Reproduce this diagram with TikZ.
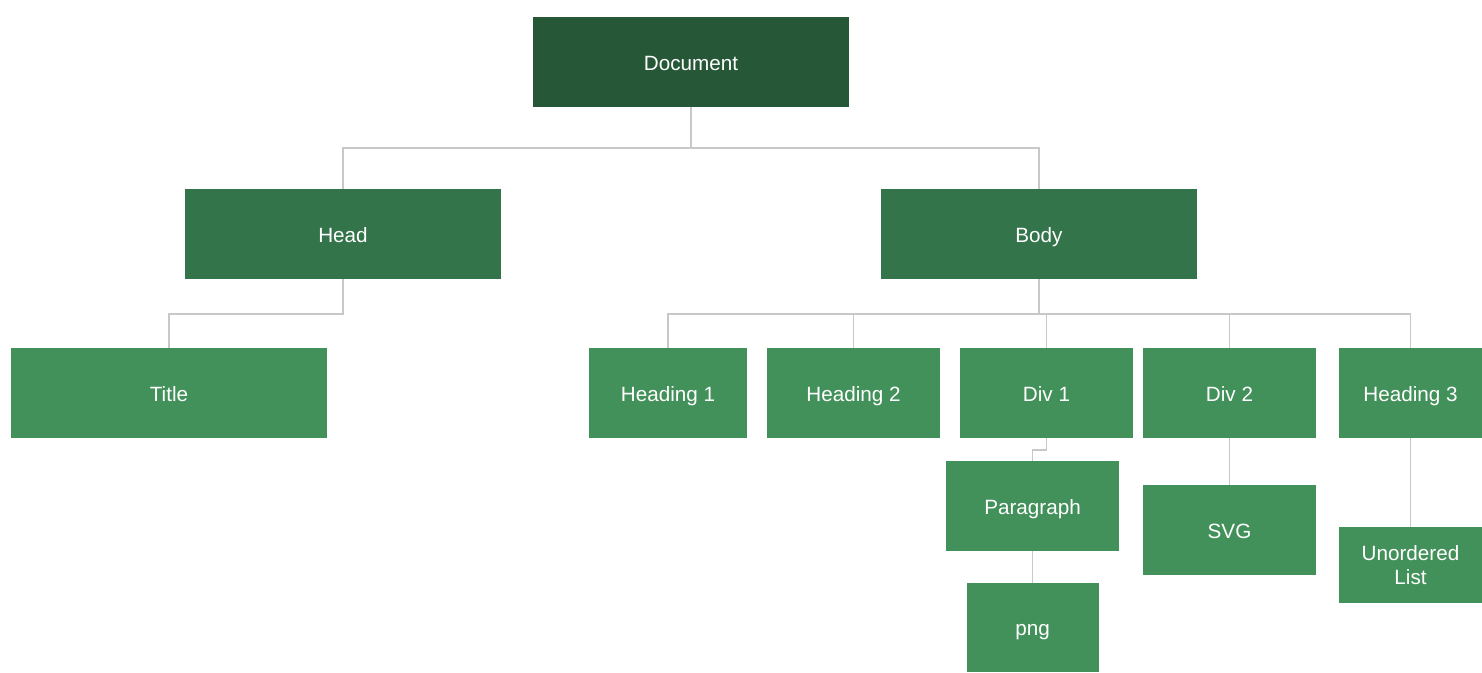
\documentclass[tikz,border=0pt]{standalone}
\usepackage{fontspec}
\setmainfont{Liberation Sans}
\definecolor{rootgreen}{HTML}{265737}
\definecolor{midgreen}{HTML}{34744A}
\definecolor{leafgreen}{HTML}{43915A}
\definecolor{linkgray}{HTML}{C8C8C8}
\begin{document}
\begin{tikzpicture}[x=0.75pt, y=-0.75pt,
        box/.style={rectangle, inner sep=0pt, text=white, align=center,
            font=\fontsize{15.5}{18}\selectfont, minimum height=67.5pt,
            text height=13.5pt, text depth=1.2pt},
        rootbox/.style={box, fill=rootgreen},
        midbox/.style={box, fill=midgreen},
        leafbox/.style={box, fill=leafgreen},
        link/.style={draw=linkgray, line width=1.4pt}]
        \useasboundingbox (0,0) rectangle (1482,672);

        % top levels
        \node[rootbox, minimum width=237pt] (doc) at (691,62) {Document};
        \node[midbox, minimum width=237pt] (head) at (343,234) {Head};
        \node[midbox, minimum width=237pt] (body) at (1039,234) {Body};

        % children
        \node[leafbox, minimum width=237pt] (title) at (169,393) {Title};
        \node[leafbox, minimum width=118.5pt] (h1) at (668,393) {Heading 1};
        \node[leafbox, minimum width=130pt] (h2) at (853.5,393) {Heading 2};
        \node[leafbox, minimum width=130pt] (div1) at (1046.5,393) {Div 1};
        \node[leafbox, minimum width=130pt] (div2) at (1229.5,393) {Div 2};
        \node[leafbox, minimum width=107pt] (h3) at (1410.5,393) {Heading 3};

        \node[leafbox, minimum width=130pt] (para) at (1032.5,506) {Paragraph};
        \node[leafbox, minimum width=130pt] (svg) at (1229.5,530) {SVG};
        \node[leafbox, minimum width=99pt, minimum height=66.75pt] (png) at (1032.5,627.5) {png};
        \node[leafbox, minimum width=107pt, minimum height=57pt,
            text height={}, text depth={}] (ul) at (1410.5,565) {Unordered\\List};

        % links
        \coordinate (docbus) at (691,148);
        \coordinate (headbus) at (343,314);
        \coordinate (bodybus) at (1039,314);

        \foreach \n in {head, body} {
            \draw[link] (doc.south) |- (docbus) -| (\n.north);
        }
        \draw[link] (head.south) |- (headbus) -| (title.north);
        \foreach \n in {h1, h2, div1, div2, h3} {
            \draw[link] (body.south) |- (bodybus) -| (\n.north);
        }
        \draw[link] (div1.south) -- ++(0,12) -| (para.north);
        \draw[link] (para.south) -- (png.north);
        \draw[link] (div2.south) -- (svg.north);
        \draw[link] (h3.south) -- (ul.north);

    \end{tikzpicture}
\end{document}
